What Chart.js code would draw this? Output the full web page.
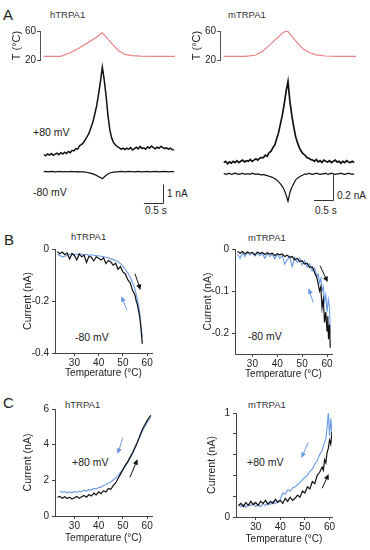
<!DOCTYPE html>
<html>
<head>
<meta charset="utf-8">
<script src="https://cdn.jsdelivr.net/npm/chart.js@4.4.1/dist/chart.umd.min.js"></script>
<style>
  body { margin: 0; width: 370px; height: 550px; position: relative; overflow: hidden; background: #fff;
         font-family: "Liberation Sans", Arial, sans-serif; color: #222; }
  canvas { position: absolute; }
  .lbl { position: absolute; white-space: nowrap; line-height: 1; transform: translateY(-50%); font-size: 10.5px; }
  .big { font-size: 15px; }
  .name { font-size: 9.5px; color: #333; }
  .bar { font-size: 10px; }
</style>
</head>
<body>
<div class="lbl big" style="left:3px;top:14px">A</div>
<div class="lbl big" style="left:4px;top:239px">B</div>
<div class="lbl big" style="left:3px;top:402px">C</div>

<div class="lbl name" style="left:50px;top:15px">hTRPA1</div>
<div class="lbl name" style="left:228px;top:15px">mTRPA1</div>
<div class="lbl" style="left:33px;top:132px">+80 mV</div>
<div class="lbl" style="left:33px;top:192px">-80 mV</div>
<div class="lbl bar" style="left:167px;top:194px">1 nA</div>
<div class="lbl bar" style="left:145px;top:211px">0.5 s</div>
<div class="lbl bar" style="left:337px;top:196px">0.2 nA</div>
<div class="lbl bar" style="left:315px;top:211px">0.5 s</div>

<div class="lbl name" style="left:71px;top:237px">hTRPA1</div>
<div class="lbl name" style="left:248px;top:238px">mTRPA1</div>
<div class="lbl" style="left:75px;top:337px">-80 mV</div>
<div class="lbl" style="left:248px;top:336px">-80 mV</div>

<div class="lbl name" style="left:65px;top:405px">hTRPA1</div>
<div class="lbl name" style="left:248px;top:405px">mTRPA1</div>
<div class="lbl" style="left:72px;top:462px">+80 mV</div>
<div class="lbl" style="left:247px;top:462px">+80 mV</div>

<script>
// ---- panel A: temperature ramps (time in s, T in degC) ----
const hTempTime = [0, 0.45, 0.7, 0.95, 1.2, 1.4, 1.54, 1.65, 1.78, 1.88, 2.0, 2.15, 2.35, 2.55, 3.0, 3.47];
const hTempVal = [25, 25, 30, 37, 45, 51.5, 57.5, 52, 44, 38, 32, 27.7, 26, 25.3, 25, 25];
const mTempTime = [0, 0.56, 0.83, 1.0, 1.17, 1.3, 1.43, 1.55, 1.67, 1.8, 1.96, 2.1, 2.28, 2.45, 2.68, 3.0, 3.5];
const mTempVal = [25, 25, 26.5, 31, 38.5, 45, 51, 57, 61, 53, 43, 35, 30, 27, 25.5, 25, 25];

// ---- panel A: current traces, sampled every 0.05 s (nA) ----
const SAMPLE_DT = 0.05;
const hPlus80 = [
  0.95, 0.88, 0.98, 0.92, 1.00, 0.90, 0.97, 1.03, 0.94, 1.05, 0.98, 1.08, 1.00, 1.12, 1.05, 1.18,
  1.15, 1.28, 1.25, 1.45, 1.50, 1.62, 1.78, 1.95, 2.15, 2.45, 2.75, 3.20, 3.65, 4.30, 5.00,
  5.80, 5.10, 4.20, 3.10, 2.30, 1.85, 1.60, 1.48, 1.38, 1.32, 1.25, 1.30,
  1.22, 1.30, 1.25, 1.33, 1.20, 1.28, 1.35, 1.26, 1.40, 1.28, 1.32, 1.24, 1.38, 1.30, 1.42, 1.33,
  1.27, 1.36, 1.30, 1.40, 1.34, 1.28, 1.32, 1.25, 1.30, 1.22, 1.20
];
const hMinus80 = [
  0, 0.01, -0.01, 0, 0.01, 0, -0.01, 0, 0, 0.01, -0.01, 0, 0, -0.01, 0.01, 0, 0, -0.01, 0, -0.01, -0.02, -0.02, -0.03,
  -0.05, -0.07, -0.10, -0.13, -0.17, -0.22, -0.28, -0.33, -0.40, -0.30, -0.20, -0.13, -0.08, -0.05, -0.03, -0.02, -0.01,
  0, 0.01, 0, -0.01, 0, 0.01, 0, 0, -0.01, 0, 0.01, 0, -0.01, 0, 0, 0.01, -0.01, 0, 0, 0.01, 0, -0.01, 0, 0, 0.01, 0, -0.01, 0, 0, 0
];
const mPlus80 = [
  0.09, 0.10, 0.08, 0.095, 0.085, 0.10, 0.09, 0.105, 0.09, 0.10, 0.11, 0.095, 0.105, 0.10, 0.115, 0.10, 0.11, 0.12, 0.11, 0.125, 0.13,
  0.13, 0.15, 0.14, 0.17, 0.18, 0.21, 0.23, 0.28, 0.33, 0.40, 0.47, 0.56, 0.66, 0.74,
  0.58, 0.47, 0.38, 0.30, 0.25, 0.21, 0.18, 0.16, 0.15, 0.13, 0.125, 0.115, 0.11,
  0.10, 0.115, 0.095, 0.105, 0.09, 0.11, 0.10, 0.095, 0.105, 0.09, 0.10, 0.11, 0.095, 0.10, 0.085, 0.10, 0.09, 0.105, 0.095, 0.09, 0.10, 0.09
];
const mMinus80 = [
  0.005, -0.005, 0, 0.005, -0.005, 0, 0.005, 0, -0.005, 0, 0.005, -0.005, 0, 0, -0.005, 0.005, 0, -0.005, 0, -0.005, -0.01, -0.005, -0.01, -0.015, -0.02,
  -0.025, -0.03, -0.04, -0.05, -0.065, -0.08, -0.10, -0.13, -0.17, -0.22, -0.15, -0.11, -0.08, -0.05, -0.035, -0.025, -0.015, -0.01,
  0, -0.005, 0.005, 0, -0.005, 0, 0.005, 0, -0.005, 0, 0, 0.005, -0.005, 0, 0.005, 0, -0.005, 0, 0, 0.005, 0, -0.005, 0, 0.005, 0, -0.005, 0
];

// ---- panel B: -80 mV current vs temperature (nA) ----
const hBHeatT = [23,24,25,26,27,28,29,30,31,32,33,34,35,36,37,38,39,40,41,42,43,44,45,46,47,48,49,50,51,52,53,54,55,55.5,56,56.5,57,57.5,58];
const hBHeatI = [-0.010,-0.018,-0.012,-0.022,-0.015,-0.038,-0.018,-0.025,-0.042,-0.020,-0.030,-0.024,-0.052,-0.028,-0.032,-0.046,-0.030,-0.036,-0.042,-0.034,
  -0.056,-0.044,-0.050,-0.062,-0.055,-0.078,-0.068,-0.088,-0.096,-0.118,-0.130,-0.160,-0.178,-0.200,-0.215,-0.240,-0.265,-0.310,-0.365];
const hBCoolT = [58,57.5,57,56.5,56,55.5,55,54,53,52,51,50,49,48,47,46,45,44,43,42,41,40,39,38,37,36,35,34,33,32,31,30,29,28,27,26,25,24,23];
const hBCoolI = [-0.340,-0.300,-0.250,-0.220,-0.195,-0.175,-0.155,-0.130,-0.108,-0.092,-0.078,-0.066,-0.056,-0.048,-0.044,-0.040,-0.038,-0.034,-0.032,-0.030,
  -0.028,-0.026,-0.026,-0.024,-0.022,-0.024,-0.020,-0.022,-0.020,-0.018,-0.022,-0.020,-0.018,-0.020,-0.025,-0.028,-0.030,-0.025,-0.020];

const mBHeatT = [24,25,26,27,28,29,30,31,32,33,34,35,36,37,38,39,40,41,42,43,44,45,46,47,48,49,50,51,52,53,54,55,56,56.5,57,57.5,58,58.5,59,59.5,60,60.3,60.6,61,61.3];
const mBHeatI = [-0.005,-0.010,-0.006,-0.012,-0.007,-0.010,-0.008,-0.014,-0.007,-0.011,-0.008,-0.013,-0.009,-0.012,-0.010,-0.016,-0.011,-0.014,-0.012,-0.018,
  -0.015,-0.020,-0.018,-0.026,-0.022,-0.030,-0.028,-0.036,-0.034,-0.044,-0.042,-0.056,-0.070,
  -0.085,-0.100,-0.090,-0.140,-0.120,-0.175,-0.150,-0.195,-0.160,-0.215,-0.180,-0.235];
const mBCoolT = [61.3,61,60.5,60,59.5,59,58.5,58,57.5,57,56.5,56,55,54,53,52,51,50,49,48,47,46,45,44,43,42,41,40,39,38,37,36,35,34,33,32,31,30,29,28,27,26,25,24];
const mBCoolI = [-0.200,-0.14,-0.12,-0.15,-0.11,-0.125,-0.09,-0.10,-0.07,-0.08,-0.06,-0.065,
  -0.045,-0.052,-0.035,-0.043,-0.028,-0.038,-0.022,-0.032,-0.020,-0.042,-0.018,-0.026,-0.036,-0.015,-0.022,-0.013,-0.024,-0.012,
  -0.018,-0.011,-0.022,-0.010,-0.016,-0.010,-0.017,-0.009,-0.014,-0.008,-0.018,-0.010,-0.022,-0.012];

// ---- panel C: +80 mV current vs temperature (nA) ----
const hCHeatT = [23,24,25,26,27,28,29,30,31,32,33,34,35,36,37,38,39,40,41,42,43,44,45,46,47,48,49,50,51,52,53,54,55,56,57,58,59,60,61,61.5];
const hCHeatI = [1.05,1.10,1.00,1.08,0.98,1.05,0.95,1.02,1.10,1.00,1.08,1.15,1.05,1.20,1.12,1.28,1.18,1.35,1.25,1.42,
  1.35,1.55,1.50,1.70,1.85,2.10,2.35,2.60,2.85,3.05,3.30,3.55,3.85,4.15,4.50,4.85,5.10,5.35,5.55,5.65];
const hCCoolT = [61.5,61,60,59,58,57,56,55,54,53,52,51,50,49,48,47,46,45,44,43,42,41,40,39,38,37,36,35,34,33,32,31,30,29,28,27,26,25,24];
const hCCoolI = [5.6,5.45,5.25,5.0,4.75,4.45,4.10,3.80,3.50,3.25,3.00,2.80,2.60,2.45,2.28,2.12,2.02,1.90,1.85,1.75,
  1.72,1.62,1.60,1.52,1.55,1.45,1.48,1.40,1.45,1.36,1.40,1.32,1.38,1.30,1.35,1.28,1.38,1.32,1.40];

const mCHeatT = [23,24,25,26,27,28,29,30,31,32,33,34,35,36,37,38,39,40,41,42,43,44,45,46,47,48,49,50,51,52,53,54,55,56,57,57.5,58,58.5,59,59.5,60,60.5,61];
const mCHeatI = [0.11,0.13,0.10,0.14,0.11,0.15,0.12,0.14,0.11,0.15,0.13,0.16,0.12,0.15,0.13,0.17,0.14,0.16,0.13,0.18,
  0.15,0.19,0.16,0.18,0.21,0.19,0.25,0.23,0.29,0.27,0.34,0.32,0.40,0.43,0.48,0.45,0.55,0.52,0.62,0.66,0.74,0.70,0.82];
const mCCoolT = [61,60.5,60,59.5,59,58.5,58,57,56,55,54,53,52,51,50,49,48,47,46,45,44,43,42,41,40,39,38,37,36,35,34,33,32,31,30,29,28,27,26,25,24,23];
const mCCoolI = [0.80,0.95,0.78,1.00,0.86,0.75,0.72,0.64,0.60,0.54,0.51,0.46,0.44,0.40,0.38,0.36,0.33,0.31,0.29,0.28,
  0.25,0.26,0.22,0.23,0.17,0.15,0.13,0.15,0.12,0.14,0.11,0.13,0.10,0.12,0.10,0.13,0.11,0.12,0.09,0.12,0.10,0.11];

// ---- tick values ----
const tempAxisTicks = [20, 40, 60];
const temperatureTicks = [30, 40, 50, 60];
const hBTicks = [-0.4, -0.2, 0];
const mBTicks = [-0.2, -0.1, 0];
const hCTicks = [0, 2, 4, 6];
const mCTicks = [0, 0.2, 0.4, 0.6, 0.8, 1];
const mCTickLabels = ['0', '', '', '', '', '1'];

const BLACK = '#111';
const BLUE = '#6a9be6';
const RED = '#e98285';
const AXIS = '#444';

Chart.defaults.font.family = '"Liberation Sans", Arial, sans-serif';
Chart.defaults.font.size = 10;
Chart.defaults.color = '#222';

// arrows and scale bars are given in data units and drawn through the scales
const arrowPlugin = {
  id: 'arrows',
  afterDatasetsDraw(chart, args, opts) {
    const { ctx, scales: { x, y } } = chart;
    (opts.list || []).forEach(a => {
      const x0 = x.getPixelForValue(a.from[0]), y0 = y.getPixelForValue(a.from[1]);
      const x1 = x.getPixelForValue(a.to[0]), y1 = y.getPixelForValue(a.to[1]);
      const ang = Math.atan2(y1 - y0, x1 - x0);
      ctx.save();
      ctx.strokeStyle = a.color;
      ctx.fillStyle = a.color;
      ctx.lineWidth = 1;
      ctx.beginPath();
      ctx.moveTo(x0, y0);
      ctx.lineTo(x1 - 3 * Math.cos(ang), y1 - 3 * Math.sin(ang));
      ctx.stroke();
      ctx.beginPath();
      ctx.moveTo(x1 + 1.5 * Math.cos(ang), y1 + 1.5 * Math.sin(ang));
      ctx.lineTo(x1 - 4 * Math.cos(ang) + 2.6 * Math.sin(ang), y1 - 4 * Math.sin(ang) - 2.6 * Math.cos(ang));
      ctx.lineTo(x1 - 4 * Math.cos(ang) - 2.6 * Math.sin(ang), y1 - 4 * Math.sin(ang) + 2.6 * Math.cos(ang));
      ctx.closePath();
      ctx.fill();
      ctx.restore();
    });
  }
};

const scaleBarPlugin = {
  id: 'scaleBar',
  afterDatasetsDraw(chart, args, opts) {
    if (!opts.corner) return;
    const { ctx, scales: { x, y } } = chart;
    const cx = Math.round(x.getPixelForValue(opts.corner[0])) + 0.5;
    const cy = Math.round(y.getPixelForValue(opts.corner[1])) + 0.5;
    const left = x.getPixelForValue(opts.corner[0] - opts.seconds);
    const top = y.getPixelForValue(opts.corner[1] + opts.amps);
    ctx.save();
    ctx.strokeStyle = '#333';
    ctx.lineWidth = 1;
    ctx.beginPath();
    ctx.moveTo(left, cy);
    ctx.lineTo(cx, cy);
    ctx.lineTo(cx, top);
    ctx.stroke();
    ctx.restore();
  }
};

Chart.register(arrowPlugin, scaleBarPlugin);

function mountCanvas(left, top, width, height) {
  const c = document.createElement('canvas');
  c.width = width;
  c.height = height;
  c.style.left = left + 'px';
  c.style.top = top + 'px';
  document.body.appendChild(c);
  return c;
}

function trace(xs, ys, color, width, order) {
  return {
    data: xs.map((x, i) => ({ x, y: ys[i] })),
    borderColor: color,
    borderWidth: width,
    pointRadius: 0,
    tension: 0,
    fill: false,
    order
  };
}

function sampleTimes(values) {
  return values.map((_, i) => +(i * SAMPLE_DT).toFixed(2));
}

function basePlugins(extra) {
  return Object.assign({ legend: { display: false }, tooltip: { enabled: false } }, extra);
}

function tempChart(left, times, temps) {
  new Chart(mountCanvas(left, 24, 168, 43), {
    type: 'line',
    data: { datasets: [trace(times, temps, RED, 1.2, 0)] },
    options: {
      responsive: false,
      animation: false,
      events: [],
      layout: { padding: { top: 6, bottom: 6, right: 2, left: 0 } },
      plugins: basePlugins({}),
      scales: {
        x: { type: 'linear', display: false, min: -0.1, max: 3.5 },
        y: {
          min: 20, max: 60,
          afterBuildTicks: s => { s.ticks = tempAxisTicks.map(v => ({ value: v })); },
          afterFit: s => { s.width = 30; },
          grid: { drawOnChartArea: false, tickLength: 3, color: '#555' },
          border: { dash: [1, 1], color: '#555' },
          ticks: { padding: 1, font: { size: 10 } },
          title: { display: true, text: 'T (°C)', padding: 0, font: { size: 11 } }
        }
      }
    }
  });
}

function currentChart(left, top, height, yMin, yMax, plus, minus, width, bar) {
  const t = sampleTimes(plus);
  new Chart(mountCanvas(left, top, 136, height), {
    type: 'line',
    data: {
      datasets: [
        trace(t, plus, BLACK, width, 0),
        trace(sampleTimes(minus), minus, BLACK, 1.2, 1)
      ]
    },
    options: {
      responsive: false,
      animation: false,
      events: [],
      layout: { padding: 0 },
      plugins: basePlugins({ scaleBar: bar }),
      scales: {
        x: { type: 'linear', display: false, min: -0.1, max: 3.5 },
        y: { display: false, min: yMin, max: yMax }
      }
    }
  });
}

function ivChart(box, xRange, yRange, yTicks, yLabels, xAxisH, yAxisW, heat, cool, arrows) {
  new Chart(mountCanvas(box[0], box[1], box[2], box[3]), {
    type: 'line',
    data: {
      datasets: [
        trace(heat[0], heat[1], BLACK, 1.2, 0),
        trace(cool[0], cool[1], BLUE, 1.1, 1)
      ]
    },
    options: {
      responsive: false,
      animation: false,
      events: [],
      layout: { padding: { top: 8, right: 10, left: 0, bottom: 0 } },
      plugins: basePlugins({ arrows: { list: arrows } }),
      scales: {
        x: {
          type: 'linear', min: xRange[0], max: xRange[1],
          afterBuildTicks: s => { s.ticks = temperatureTicks.map(v => ({ value: v })); },
          afterFit: s => { s.height = xAxisH; },
          grid: { drawOnChartArea: false, tickLength: 3, color: AXIS },
          border: { color: AXIS },
          ticks: { padding: 1, maxRotation: 0, font: { size: 10 } },
          title: { display: true, text: 'Temperature (°C)', padding: 0, font: { size: 10 } }
        },
        y: {
          min: yRange[0], max: yRange[1],
          afterBuildTicks: s => { s.ticks = yTicks.map(v => ({ value: v })); },
          afterFit: s => { s.width = yAxisW; },
          grid: { drawOnChartArea: false, tickLength: 3, color: AXIS },
          border: { color: AXIS },
          ticks: { padding: 3, font: { size: 10 }, callback: (v, i) => yLabels[i] },
          title: { display: true, text: 'Current (nA)', padding: 0, font: { size: 10.5 } }
        }
      }
    }
  });
}

// panel A
tempChart(10, hTempTime, hTempVal);
tempChart(190, mTempTime, mTempVal);
currentChart(40, 60, 144, -1.8, 6.2, hPlus80, hMinus80, 1.5, { corner: [3.15, -1.72], seconds: 0.5, amps: 1 });
currentChart(220, 74, 131, -0.25, 0.8, mPlus80, mMinus80, 1.7, { corner: [2.89, -0.208], seconds: 0.5, amps: 0.2 });

// panel B
ivChart([22, 240, 140, 139], [22, 62], [-0.4, 0], hBTicks, hBTicks.map(String), 26, 33,
  [hBHeatT, hBHeatI], [hBCoolT, hBCoolI],
  [{ from: [55.0, -0.095], to: [57.05, -0.152], color: BLACK }, { from: [51.7, -0.236], to: [49.6, -0.187], color: BLUE }]);
ivChart([202, 240, 140, 140], [23, 62], [-0.25, 0], mBTicks, mBTicks.map(String), 26, 33,
  [mBHeatT, mBHeatI], [mBCoolT, mBCoolI],
  [{ from: [57.2, -0.04], to: [60.0, -0.0755], color: BLACK }, { from: [54.4, -0.127], to: [52.8, -0.097], color: BLUE }]);

// panel C
ivChart([22, 400, 140, 144], [22, 62], [0, 6], hCTicks, hCTicks.map(String), 28, 33,
  [hCHeatT, hCHeatI], [hCCoolT, hCCoolI],
  [{ from: [52.9, 2.17], to: [55.8, 3.11], color: BLACK }, { from: [50.0, 4.39], to: [48.0, 3.56], color: BLUE }]);
ivChart([206, 404, 136, 141], [22, 61], [0, 1], mCTicks, mCTickLabels, 28, 30,
  [mCHeatT, mCHeatI], [mCCoolT, mCCoolI],
  [{ from: [57.0, 0.276], to: [59.4, 0.40], color: BLACK }, { from: [51.3, 0.714], to: [48.8, 0.58], color: BLUE }]);
</script>
</body>
</html>
